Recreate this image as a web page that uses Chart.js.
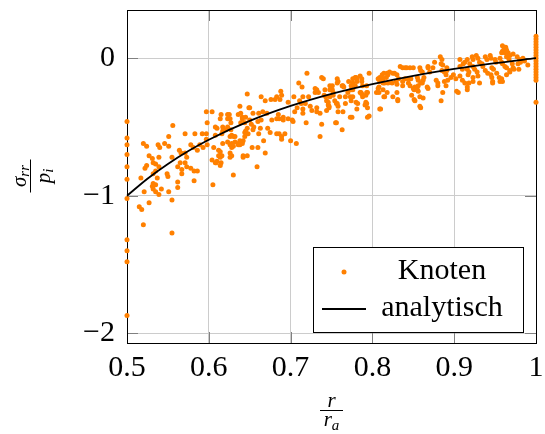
<!DOCTYPE html>
<html>
<head>
<meta charset="utf-8">
<script src="https://cdn.jsdelivr.net/npm/chart.js@4.4.1/dist/chart.umd.min.js"></script>
<style>
  body { margin: 0; background: #fff; }
  canvas { display: block; }
</style>
</head>
<body>
<canvas id="chart" width="545" height="434"></canvas>
<script>
// Knoten: [r/ra, sigma_rr/p_i]
const knoten = [
  // Innenrand r = ri
  [0.5,-0.46],[0.5,-0.58],[0.5,-0.63],[0.5,-0.70],[0.5,-0.79],[0.5,-0.88],[0.5,-1.02],[0.5,-1.32],[0.5,-1.40],[0.5,-1.48],[0.5,-1.87],
  // Aussenrand r = ra
  [1,0.16],[1,0.14],[1,0.12],[1,0.10],[1,0.08],[1,0.06],[1,0.04],[1,0.02],[1,0.00],[1,-0.02],[1,-0.04],[1,-0.06],[1,-0.08],[1,-0.10],[1,-0.12],[1,-0.14],[1,-0.16],[1,-0.32],
  // 0.51 - 0.56
  [0.515,-1.08],[0.518,-1.10],[0.520,-1.21],[0.517,-0.87],[0.520,-0.62],[0.524,-0.64],[0.521,-0.97],[0.522,-0.80],[0.524,-0.78],[0.527,-0.71],
  [0.527,-1.05],[0.531,-0.73],[0.532,-0.76],[0.532,-0.84],[0.532,-0.91],[0.535,-0.82],[0.535,-0.77],[0.535,-0.92],[0.531,-0.93],[0.532,-0.95],
  [0.535,-0.97],[0.537,-0.87],[0.538,-0.63],[0.539,-0.72],[0.539,-0.79],[0.539,-0.99],[0.540,-0.65],[0.542,-0.95],[0.546,-0.62],[0.549,-0.84],
  [0.550,-0.86],[0.551,-0.57],[0.551,-0.64],[0.551,-0.97],[0.555,-0.72],[0.555,-1.03],[0.555,-1.27],[0.556,-0.49],
  // 0.56 - 0.61
  [0.562,-0.79],[0.567,-0.81],[0.565,-0.76],[0.562,-0.90],[0.562,-0.94],[0.564,-0.67],[0.566,-0.69],[0.567,-0.84],[0.571,-0.55],[0.571,-0.69],
  [0.573,-0.72],[0.571,-0.76],[0.573,-0.79],[0.578,-0.63],[0.581,-0.65],[0.578,-0.80],[0.582,-0.82],[0.586,-0.82],[0.582,-0.89],[0.583,-0.55],
  [0.586,-0.67],[0.589,-0.63],[0.593,-0.65],[0.592,-0.55],[0.597,-0.55],[0.598,-0.63],[0.597,-0.39],[0.598,-0.47],[0.604,-0.39],[0.605,-0.92],
  [0.606,-0.65],[0.608,-0.50],[0.610,-0.51],[0.604,-0.74],[0.608,-0.76],[0.610,-0.75],[0.612,-0.71],[0.614,-0.78],[0.612,-0.67],[0.597,-0.59],
  [0.608,-0.56],
  // 0.61 - 0.66
  [0.615,-0.41],[0.614,-0.44],[0.623,-0.41],[0.617,-0.50],[0.621,-0.52],[0.617,-0.62],[0.623,-0.61],[0.614,-0.68],[0.614,-0.72],[0.609,-0.76],
  [0.615,-0.76],[0.626,-0.69],[0.628,-0.71],[0.628,-0.62],[0.632,-0.61],[0.636,-0.62],[0.630,-0.57],[0.638,-0.60],[0.644,-0.54],[0.647,-0.71],
  [0.642,-0.71],[0.625,-0.41],[0.623,-0.44],[0.636,-0.41],[0.641,-0.43],[0.645,-0.43],[0.638,-0.35],[0.649,-0.36],[0.647,-0.26],[0.623,-0.50],
  [0.627,-0.52],[0.626,-0.57],[0.638,-0.63],[0.641,-0.62],[0.644,-0.57],[0.647,-0.51],[0.626,-0.44],[0.627,-0.47],[0.639,-0.40],[0.641,-0.44],
  [0.654,-0.40],[0.661,-0.40],[0.660,-0.46],[0.650,-0.45],[0.639,-0.47],[0.644,-0.47],[0.652,-0.48],[0.655,-0.50],[0.654,-0.52],[0.663,-0.51],
  [0.661,-0.55],[0.645,-0.53],[0.648,-0.55],[0.617,-0.53],[0.616,-0.55],[0.628,-0.56],[0.632,-0.57],[0.639,-0.61],[0.642,-0.60],[0.636,-0.63],
  [0.626,-0.63],[0.628,-0.65],[0.630,-0.64],[0.660,-0.65],[0.653,-0.65],[0.626,-0.72],[0.642,-0.72],[0.616,-0.71],[0.659,-0.79],[0.630,-0.85],
  [0.650,-0.36],
  // 0.66 - 0.75
  [0.720,-0.11],[0.738,-0.14],[0.710,-0.18],[0.714,-0.21],[0.730,-0.22],[0.732,-0.23],[0.688,-0.24],[0.689,-0.27],[0.683,-0.28],[0.664,-0.28],
  [0.704,-0.28],[0.715,-0.28],[0.722,-0.28],[0.669,-0.31],[0.676,-0.30],[0.681,-0.30],[0.687,-0.30],[0.711,-0.31],[0.713,-0.33],[0.718,-0.33],
  [0.743,-0.28],[0.744,-0.31],[0.746,-0.34],[0.697,-0.32],[0.708,-0.36],[0.724,-0.35],[0.726,-0.38],[0.732,-0.36],[0.732,-0.39],[0.736,-0.40],
  [0.666,-0.39],[0.671,-0.40],[0.705,-0.39],[0.715,-0.37],[0.715,-0.40],[0.685,-0.41],[0.686,-0.44],[0.691,-0.43],[0.691,-0.45],[0.697,-0.44],
  [0.702,-0.45],[0.677,-0.45],[0.683,-0.44],[0.664,-0.45],[0.719,-0.47],[0.703,-0.46],[0.672,-0.51],[0.675,-0.54],[0.683,-0.55],[0.686,-0.55],
  [0.689,-0.57],[0.689,-0.59],[0.693,-0.55],[0.736,-0.57],[0.700,-0.60],[0.707,-0.62],[0.667,-0.60],[0.669,-0.69],[0.740,-0.15],[0.734,-0.25],
  [0.730,-0.25],[0.747,-0.36],[0.748,-0.28],
  // 0.74 - 0.83
  [0.757,-0.15],[0.757,-0.18],[0.776,-0.15],[0.779,-0.14],[0.781,-0.15],[0.781,-0.17],[0.776,-0.18],[0.796,-0.11],[0.812,-0.12],[0.814,-0.11],
  [0.818,-0.11],[0.817,-0.14],[0.813,-0.15],[0.751,-0.20],[0.748,-0.23],[0.764,-0.20],[0.774,-0.23],[0.776,-0.23],[0.787,-0.17],[0.788,-0.20],
  [0.807,-0.22],[0.808,-0.25],[0.793,-0.25],[0.792,-0.27],[0.786,-0.25],[0.788,-0.28],[0.752,-0.27],[0.767,-0.28],[0.773,-0.28],[0.776,-0.28],
  [0.754,-0.31],[0.756,-0.33],[0.792,-0.32],[0.793,-0.33],[0.780,-0.32],[0.782,-0.33],[0.758,-0.39],[0.767,-0.33],[0.781,-0.37],[0.791,-0.34],
  [0.794,-0.36],[0.809,-0.37],[0.814,-0.28],[0.818,-0.25],[0.773,-0.43],[0.794,-0.43],[0.756,-0.47],[0.763,-0.52],[0.827,-0.11],[0.830,-0.12],
  [0.821,-0.10],[0.825,-0.11],[0.819,-0.12],[0.809,-0.14],[0.807,-0.15],[0.780,-0.14],[0.785,-0.13],[0.787,-0.15],[0.758,-0.17],[0.832,-0.15],
  [0.809,-0.17],[0.813,-0.18],[0.819,-0.18],[0.824,-0.18],[0.829,-0.17],[0.830,-0.19],[0.808,-0.21],[0.805,-0.25],[0.815,-0.28],[0.825,-0.28],
  [0.831,-0.31],[0.771,-0.17],[0.774,-0.20],[0.776,-0.19],[0.779,-0.20],[0.793,-0.20],[0.794,-0.25],[0.785,-0.25],[0.787,-0.26],[0.763,-0.20],
  [0.765,-0.21],[0.748,-0.20],[0.751,-0.23],[0.752,-0.25],[0.742,-0.23],[0.741,-0.27],[0.770,-0.25],[0.774,-0.31],[0.760,-0.28],[0.757,-0.33],
  [0.758,-0.35],[0.746,-0.32],[0.747,-0.35],[0.744,-0.38],[0.764,-0.39],[0.796,-0.42],[0.775,-0.43],[0.755,-0.47],[0.738,-0.48],[0.815,-0.18],
  [0.813,-0.23],[0.830,-0.25],[0.831,-0.30],[0.810,-0.37],
  // 0.83 - 0.89
  [0.834,-0.06],[0.837,-0.07],[0.840,-0.07],[0.842,-0.07],[0.846,-0.07],[0.850,-0.07],[0.858,-0.07],[0.859,-0.09],[0.868,-0.06],[0.837,-0.17],
  [0.840,-0.15],[0.844,-0.15],[0.847,-0.15],[0.855,-0.14],[0.856,-0.16],[0.859,-0.18],[0.856,-0.20],[0.852,-0.21],[0.862,-0.16],[0.844,-0.18],
  [0.846,-0.20],[0.850,-0.22],[0.851,-0.23],[0.855,-0.23],[0.856,-0.24],[0.837,-0.20],[0.848,-0.27],[0.851,-0.30],[0.858,-0.28],[0.862,-0.29],
  [0.858,-0.35],[0.883,0.01],[0.885,-0.01],[0.884,-0.04],[0.886,-0.05],[0.876,-0.03],[0.874,-0.07],[0.868,-0.07],[0.870,-0.10],[0.861,-0.10],
  [0.863,-0.14],[0.861,-0.18],[0.878,-0.16],[0.880,-0.18],[0.867,-0.21],[0.884,-0.31],[0.852,-0.31],[0.859,-0.36],[0.868,-0.22],[0.880,-0.20],
  // 0.88 - 0.99
  [0.959,0.09],[0.961,0.07],[0.963,0.08],[0.964,0.06],[0.959,0.05],[0.958,0.04],[0.962,0.04],[0.966,0.04],[0.968,0.02],[0.964,0.01],
  [0.972,0.03],[0.977,0.01],[0.980,-0.01],[0.981,-0.03],[0.978,-0.04],[0.944,0.02],[0.945,0.00],[0.927,0.02],[0.929,0.00],[0.938,0.01],
  [0.940,-0.01],[0.950,-0.01],[0.951,-0.03],[0.956,0.00],[0.958,-0.03],[0.959,-0.04],[0.967,-0.01],[0.971,-0.04],[0.972,-0.07],[0.973,-0.08],
  [0.962,-0.06],[0.964,-0.07],[0.968,-0.09],[0.891,-0.07],[0.891,-0.09],[0.896,-0.14],[0.892,-0.16],[0.885,-0.09],[0.888,-0.10],[0.890,-0.12],
  [0.888,-0.17],[0.890,-0.20],[0.886,-0.25],[0.907,-0.01],[0.911,-0.04],[0.913,-0.03],[0.916,-0.01],[0.919,-0.04],[0.922,0.01],[0.923,-0.01],
  [0.931,-0.03],[0.934,-0.04],[0.935,-0.06],[0.923,-0.06],[0.925,-0.08],[0.928,-0.10],[0.907,-0.06],[0.910,-0.08],[0.916,-0.08],[0.918,-0.10],
  [0.917,-0.12],[0.938,-0.09],[0.941,-0.11],[0.946,-0.07],[0.948,-0.08],[0.952,-0.11],[0.955,-0.14],[0.958,-0.15],[0.946,-0.14],[0.947,-0.17],
  [0.945,-0.12],[0.964,-0.12],[0.907,-0.13],[0.910,-0.16],[0.913,-0.18],[0.899,-0.12],[0.902,-0.15],[0.929,-0.13],[0.931,-0.18],[0.923,-0.14],
  [0.923,-0.17],[0.903,-0.24],[0.918,-0.18],[0.916,-0.21],[0.947,-0.18],[0.956,-0.17],[0.968,-0.10],[0.979,-0.08],[0.905,-0.25],[0.916,-0.23],
  [0.959,-0.17],[0.986,-0.02],[0.990,-0.05],[0.984,0.00]
];

// analytische Loesung
const analytR = [0.5, 0.525, 0.55, 0.575, 0.6, 0.65, 0.7, 0.75, 0.8, 0.85, 0.9, 0.95, 1];
const analytS = [-1.0, -0.876, -0.769, -0.675, -0.593, -0.456, -0.347, -0.259, -0.188, -0.128, -0.078, -0.036, 0];

const xTicks = [0.5, 0.6, 0.7, 0.8, 0.9, 1];
const yTicks = [-2, -1, 0];

const orange = '#ff8000';
const serif = '"Liberation Serif", "DejaVu Serif", serif';

// Rahmen und Tickstriche wie bei pgfplots
const rahmen = {
  id: 'rahmen',
  beforeDatasetsDraw(chart) {
    const { ctx, chartArea: a, scales } = chart;
    ctx.save();
    ctx.strokeStyle = '#808080';
    ctx.lineWidth = 1;
    const t = 11;
    ctx.beginPath();
    xTicks.forEach(v => {
      const px = Math.round(scales.x.getPixelForValue(v)) + 0.5;
      ctx.moveTo(px, a.bottom); ctx.lineTo(px, a.bottom - t);
      ctx.moveTo(px, a.top); ctx.lineTo(px, a.top + t);
    });
    yTicks.forEach(v => {
      const py = Math.round(scales.y.getPixelForValue(v)) + 0.5;
      ctx.moveTo(a.left, py); ctx.lineTo(a.left + t, py);
      ctx.moveTo(a.right, py); ctx.lineTo(a.right - t, py);
    });
    ctx.stroke();
    ctx.strokeStyle = '#000';
    ctx.strokeRect(Math.round(a.left) + 0.5, Math.round(a.top) + 0.5,
      Math.round(a.right - a.left), Math.round(a.bottom - a.top));
    ctx.restore();
  }
};

// Achsenbeschriftungen als Brueche und Legende
const beschriftung = {
  id: 'beschriftung',
  afterDraw(chart) {
    const { ctx, chartArea: a } = chart;
    const ds = chart.data.datasets;
    ctx.save();
    ctx.fillStyle = '#000';
    ctx.strokeStyle = '#000';

    // x: r / r_a
    const cx = (a.left + a.right) / 2;
    const by = a.bottom + 67.5;
    ctx.lineWidth = 1;
    ctx.beginPath(); ctx.moveTo(cx - 11.5, by); ctx.lineTo(cx + 11.5, by); ctx.stroke();
    ctx.textBaseline = 'alphabetic';
    ctx.textAlign = 'center';
    ctx.font = 'italic 21px ' + serif;
    ctx.fillText('r', cx, by - 4);
    ctx.textAlign = 'left';
    const rw = ctx.measureText('r').width;
    ctx.font = 'italic 15px ' + serif;
    const aw = ctx.measureText('a').width;
    const x0 = cx - (rw + aw) / 2;
    ctx.font = 'italic 21px ' + serif;
    ctx.fillText('r', x0, by + 15.5);
    ctx.font = 'italic 15px ' + serif;
    ctx.fillText('a', x0 + rw, by + 19.5);

    // y: sigma_rr / p_i
    ctx.save();
    ctx.translate(30.5, 176);
    ctx.rotate(-Math.PI / 2);
    ctx.beginPath(); ctx.moveTo(-16.5, 0); ctx.lineTo(16.5, 0); ctx.stroke();
    ctx.font = 'italic 21px ' + serif;
    const sw = ctx.measureText('\u03c3').width;
    const pw = ctx.measureText('p').width;
    ctx.font = 'italic 15px ' + serif;
    const rrw = ctx.measureText('rr').width;
    const iw = ctx.measureText('i').width;
    let s0 = -(sw + rrw) / 2;
    ctx.font = 'italic 21px ' + serif;
    ctx.fillText('\u03c3', s0, -5);
    ctx.font = 'italic 15px ' + serif;
    ctx.fillText('rr', s0 + sw, -2);
    let p0 = -(pw + iw) / 2;
    ctx.font = 'italic 21px ' + serif;
    ctx.fillText('p', p0, 19);
    ctx.font = 'italic 15px ' + serif;
    ctx.fillText('i', p0 + pw, 22);
    ctx.restore();

    // Legende
    const lx1 = a.right - 13, ly1 = a.bottom - 11;
    const lx0 = lx1 - 210, ly0 = ly1 - 85;
    ctx.fillStyle = '#fff';
    ctx.fillRect(lx0, ly0, lx1 - lx0, ly1 - ly0);
    ctx.strokeStyle = '#000';
    ctx.lineWidth = 1;
    ctx.strokeRect(Math.round(lx0) + 0.5, Math.round(ly0) + 0.5, Math.round(lx1 - lx0), Math.round(ly1 - ly0));
    ctx.fillStyle = orange;
    ctx.beginPath(); ctx.arc(lx0 + 31, ly0 + 25, 2.5, 0, Math.PI * 2); ctx.fill();
    ctx.strokeStyle = '#000';
    ctx.lineWidth = 1.8;
    ctx.beginPath(); ctx.moveTo(lx0 + 9, ly0 + 62); ctx.lineTo(lx0 + 53, ly0 + 62); ctx.stroke();
    ctx.fillStyle = '#000';
    ctx.font = '30px ' + serif;
    ctx.textAlign = 'center';
    ctx.fillText(ds[0].label, lx0 + 129, ly0 + 32);
    ctx.fillText(ds[1].label, lx0 + 129, ly0 + 69);
    ctx.restore();
  }
};

new Chart(document.getElementById('chart'), {
  data: {
    datasets: [
      {
        type: 'scatter',
        label: 'Knoten',
        data: knoten.map(p => ({ x: p[0], y: p[1] })),
        backgroundColor: orange,
        borderWidth: 0,
        pointRadius: 2.5,
        order: 2,
        clip: false
      },
      {
        type: 'line',
        label: 'analytisch',
        data: analytR.map((r, i) => ({ x: r, y: analytS[i] })),
        borderColor: '#000',
        borderWidth: 1.8,
        pointRadius: 0,
        cubicInterpolationMode: 'monotone',
        fill: false,
        order: 1,
        clip: false
      }
    ]
  },
  options: {
    responsive: false,
    animation: false,
    layout: { padding: { top: 10, right: 9, left: 0, bottom: 0 } },
    plugins: { legend: { display: false }, tooltip: { enabled: false } },
    scales: {
      x: {
        type: 'linear',
        min: 0.5,
        max: 1,
        afterBuildTicks: s => { s.ticks = xTicks.map(v => ({ value: v })); },
        afterFit: s => { s.height = 91; s.paddingLeft = 0; s.paddingRight = 0; },
        grid: { color: '#cccccc', lineWidth: 1, drawTicks: false },
        border: { display: false },
        ticks: {
          padding: 7,
          color: '#000',
          font: { family: serif, size: 30 },
          maxRotation: 0,
          callback: v => (v === 1 ? '1' : v.toFixed(1))
        }
      },
      y: {
        type: 'linear',
        min: -2.07,
        max: 0.35,
        afterBuildTicks: s => { s.ticks = yTicks.map(v => ({ value: v })); },
        afterFit: s => { s.width = 127; s.paddingTop = 0; s.paddingBottom = 0; },
        grid: { color: '#cccccc', lineWidth: 1, drawTicks: false },
        border: { display: false },
        ticks: {
          padding: 12,
          color: '#000',
          font: { family: serif, size: 30 },
          callback: v => (v < 0 ? '\u2212' + Math.abs(v) : String(v))
        }
      }
    }
  },
  plugins: [rahmen, beschriftung]
});
</script>
</body>
</html>
